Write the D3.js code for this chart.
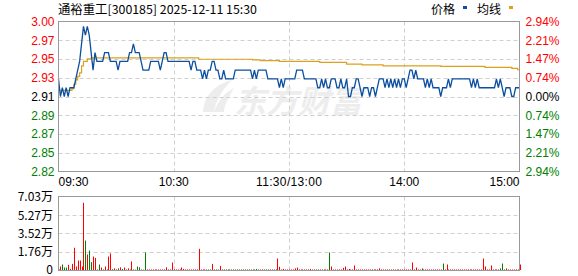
<!DOCTYPE html>
<html>
<head>
<meta charset="utf-8">
<script src="https://cdn.jsdelivr.net/npm/d3@7"></script>
<style>
  body { margin: 0; background: #fff; }
  svg { display: block; }
</style>
</head>
<body>
<script>
// chart data
var title = "通裕重工[300185] 2025-12-11 15:30";
var prevClose = 2.91;
var maxPct = 0.0294;
var priceLabels = ["3.00", "2.97", "2.95", "2.93", "2.91", "2.89", "2.87", "2.85", "2.82"];
var pctLabels = ["2.94%", "2.21%", "1.47%", "0.74%", "0.00%", "0.74%", "1.47%", "2.21%", "2.94%"];
var timeLabels = ["09:30", "10:30", "11:30/13:00", "14:00", "15:00"];
var timeMinutes = [0, 60, 120, 180, 240];
var volLabels = ["7.03万", "5.27万", "3.52万", "1.76万", "0"];
var volTicks = [7.03, 5.27, 3.52, 1.76, 0];

// one price per minute, 241 points
var prices = [
  2.93,2.91,2.92,2.91,2.92,2.91,2.92,2.92,2.92,2.93,
  2.94,2.95,2.97,2.99,2.98,2.99,2.98,2.96,2.94,2.96,
  2.95,2.95,2.95,2.95,2.96,2.96,2.96,2.95,2.95,2.95,
  2.95,2.94,2.95,2.95,2.95,2.95,2.95,2.96,2.96,2.97,
  2.96,2.96,2.96,2.95,2.94,2.94,2.94,2.94,2.95,2.95,
  2.95,2.95,2.95,2.94,2.95,2.96,2.96,2.95,2.95,2.95,
  2.95,2.95,2.95,2.95,2.95,2.95,2.95,2.95,2.95,2.94,
  2.95,2.95,2.94,2.94,2.94,2.93,2.94,2.93,2.94,2.94,
  2.95,2.95,2.94,2.94,2.93,2.93,2.94,2.93,2.93,2.93,
  2.93,2.93,2.94,2.94,2.94,2.94,2.94,2.94,2.94,2.94,
  2.94,2.93,2.94,2.93,2.94,2.94,2.94,2.94,2.94,2.93,
  2.93,2.93,2.93,2.93,2.93,2.92,2.93,2.92,2.93,2.93,
  2.93,2.93,2.93,2.93,2.94,2.94,2.94,2.94,2.93,2.93,
  2.93,2.93,2.93,2.93,2.93,2.92,2.92,2.93,2.92,2.93,
  2.92,2.92,2.93,2.93,2.93,2.92,2.92,2.93,2.92,2.92,
  2.93,2.91,2.91,2.92,2.92,2.93,2.93,2.92,2.91,2.92,
  2.92,2.92,2.91,2.92,2.92,2.91,2.92,2.93,2.93,2.93,
  2.92,2.93,2.92,2.93,2.92,2.93,2.92,2.93,2.92,2.93,
  2.93,2.92,2.93,2.94,2.94,2.93,2.94,2.93,2.93,2.93,
  2.93,2.92,2.93,2.92,2.93,2.92,2.92,2.92,2.92,2.91,
  2.92,2.92,2.92,2.93,2.92,2.93,2.93,2.93,2.93,2.93,
  2.93,2.93,2.93,2.93,2.93,2.92,2.93,2.92,2.93,2.92,
  2.92,2.92,2.92,2.92,2.92,2.92,2.92,2.92,2.93,2.92,
  2.93,2.92,2.91,2.92,2.92,2.92,2.91,2.91,2.92,2.92,
  2.92
];

// average line: [minute, value] where it changes
var avgPrices = [
  [0, 2.917], [7, 2.919], [8, 2.924], [9, 2.929], [10, 2.933], [11, 2.937],
  [12, 2.945], [13, 2.950], [15, 2.953], [17, 2.954], [73, 2.9525],
  [101, 2.9517], [105, 2.951], [115, 2.950], [136, 2.949], [150, 2.947],
  [158, 2.946], [169, 2.945], [199, 2.9444], [222, 2.9433], [236, 2.942],
  [239, 2.9405], [240, 2.9405]
];

// volume per minute in 万, and bar colour (r = up, g = down)
var volumes = [
  0.1,0.38,0.57,0.28,0.28,0.54,0.16,0.63,2.16,0.38,
  0.95,0.95,0.38,6.43,2.85,1.52,1.9,0.79,1.33,1.2,
  0.1,0.57,0.28,0.1,0.38,0.1,1.33,1.62,0.12,0.2,
  0.1,0.2,0.3,0.15,0.28,0.1,0.2,0.1,0.86,0.1,
  0.08,0.38,0.3,0.1,0.08,1.71,0.1,0.1,0.1,0.1,
  0.1,0.1,0.1,0.1,0.1,0.1,0.3,0.1,0.1,0.76,
  0.1,0.1,0.1,0.1,0.28,0.15,0.1,0.1,0.1,0.1,
  0.1,0.1,0.1,2.06,0.1,0.1,0.1,0.1,0.1,0.1,
  0.63,0.1,0.1,0.1,0.44,0.1,0.1,0.1,0.1,0.1,
  0.1,0.1,0.1,0.1,0.1,0.1,0.1,0.1,0.1,0.1,
  0.1,0.1,0.1,0.15,0.1,0.1,0.1,0.1,0.1,0.1,
  0.1,0.1,0.1,0.1,1.14,0.35,0.1,0.15,0.1,0.1,
  0.1,0.1,0.1,0.2,0.28,0.1,0.1,0.1,0.1,0.1,
  0.1,0.15,0.1,0.1,0.1,0.1,0.1,0.1,0.1,0.1,
  0.1,1.71,0.38,0.1,0.1,0.1,0.1,0.1,0.25,0.38,
  0.1,0.15,0.1,0.1,0.48,0.1,0.1,0.1,0.1,0.1,
  0.1,0.1,0.1,0.1,0.1,0.1,0.1,0.2,0.1,0.1,
  0.1,0.1,0.1,0.1,0.1,0.1,0.1,0.1,0.1,0.1,
  0.1,0.1,0.1,0.1,0.76,0.1,0.28,0.1,0.1,0.2,
  0.1,0.1,0.1,0.1,0.1,0.1,0.1,0.1,0.1,0.1,
  0.66,0.1,0.57,0.1,0.1,0.1,0.1,0.1,0.1,0.1,
  0.1,0.1,0.1,0.1,0.1,0.1,0.1,0.1,0.1,0.1,
  0.1,1.14,0.38,0.1,0.1,0.48,0.1,0.1,0.1,0.1,
  0.2,0.66,0.1,0.2,0.1,0.1,0.1,0.1,0.1,0.1,
  0.57
];
var volDirs = (
  "rrgggrrrrr" + "rrrrgrggrr" + "rgrgrrrrgr" + "rgrgrgrgrr" + "rggrggrrrr" +
  "rrrrrrrrrr" + "rrrrrrrrrr" + "rrrrrrrggr" + "rggrrgggrg" + "ggrggrggrg" +
  "rggggrrggr" + "rgrgrrgrrr" + "rrrrrrrrrg" + "rrrrggrgrr" + "rgrrrrrrrr" +
  "rrrrrrrrrr" + "rrrgrrrrrr" + "rrgrrrrgrr" + "rrrrrrrrrg" + "rrrrrrrrrr" +
  "grrrrrrrrr" + "rrrrrrrrrr" + "rrrrrrrrrr" + "gggrrrrrrr" + "r"
).split("");

var svgWidth = 578, svgHeight = 276;
var RED = "#ff0000", GREEN = "#008000", BLUE = "#0b4fa0", GOLD = "#dca21e";
var numFont = "'Liberation Sans', Arial, sans-serif";
var cjkFont = "'Noto Sans CJK SC', 'Liberation Sans', sans-serif";

var svg = d3.select("body").append("svg")
  .attr("width", svgWidth)
  .attr("height", svgHeight);

// scales
var x = d3.scaleLinear().domain([0, 240]).range([58.5, 519.5]);
var step = prevClose * maxPct / 4;
var y = d3.scaleLinear()
  .domain([prevClose - 4 * step, prevClose + 4 * step])
  .range([171.5, 21.5]);
var yv = d3.scaleLinear().domain([0, 7.03]).range([270.5, 196.5]);
var tickVals = d3.range(9).map(function(k) { return prevClose + (4 - k) * step; });

function labelColor(k) {
  return k < 4 ? RED : (k == 4 ? "#000" : GREEN);
}

// watermark
svg.append("text")
  .attr("x", 234).attr("y", 113)
  .attr("font-family", cjkFont)
  .attr("font-size", 32).attr("font-weight", "bold")
  .attr("font-style", "italic")
  .attr("fill", "#ededed")
  .text("东方财富");
svg.append("path")
  .attr("d", "M203,112 C204,95 216,84 232,80 C222,90 216,100 214,112 Z M214,112 C218,100 226,92 234,88 C228,98 224,106 224,112 Z")
  .attr("fill", "#ededed");

// title + legend
svg.append("text")
  .attr("x", 58).attr("y", 14)
  .attr("font-family", cjkFont).attr("font-size", 12)
  .attr("textLength", 199).attr("lengthAdjust", "spacingAndGlyphs")
  .text(title);
svg.append("text").attr("x", 431).attr("y", 14)
  .attr("font-family", cjkFont).attr("font-size", 12).text("价格");
svg.append("rect").attr("x", 463).attr("y", 6).attr("width", 4).attr("height", 3).attr("fill", BLUE);
svg.append("text").attr("x", 477).attr("y", 14)
  .attr("font-family", cjkFont).attr("font-size", 12).text("均线");
svg.append("rect").attr("x", 509).attr("y", 6).attr("width", 4).attr("height", 3).attr("fill", GOLD);

// grids
var grid = svg.append("g")
  .attr("stroke", "#cfcfcf").attr("stroke-dasharray", "4,3").attr("fill", "none");
tickVals.slice(1, 8).forEach(function(v) {
  var yy = Math.round(y(v)) + 0.5;
  grid.append("line").attr("x1", x(0)).attr("x2", x(240)).attr("y1", yy).attr("y2", yy);
});
timeMinutes.slice(1, 4).forEach(function(m) {
  var xx = Math.round(x(m)) + 0.5;
  grid.append("line").attr("x1", xx).attr("x2", xx).attr("y1", y.range()[1]).attr("y2", y.range()[0]);
  grid.append("line").attr("x1", xx).attr("x2", xx).attr("y1", yv.range()[1]).attr("y2", yv.range()[0]);
});
volTicks.slice(1, 4).forEach(function(v) {
  var yy = Math.round(yv(v)) + 0.5;
  grid.append("line").attr("x1", x(0)).attr("x2", x(240)).attr("y1", yy).attr("y2", yy);
});

// left / right price axes
var leftAxis = d3.axisLeft(y).tickValues(tickVals).tickSize(0).tickPadding(4)
  .tickFormat(function(d, i) { return priceLabels[i]; });
var gl = svg.append("g").attr("transform", "translate(" + x(0) + ",0)").call(leftAxis);
gl.select(".domain").remove();
gl.selectAll("text").attr("font-family", numFont).attr("font-size", 12)
  .attr("fill", function(d, i) { return labelColor(i); });

var rightAxis = d3.axisRight(y).tickValues(tickVals).tickSize(0).tickPadding(6)
  .tickFormat(function(d, i) { return pctLabels[i]; });
var gr = svg.append("g").attr("transform", "translate(" + x(240) + ",0)").call(rightAxis);
gr.select(".domain").remove();
gr.selectAll("text").attr("font-family", numFont).attr("font-size", 12)
  .attr("fill", function(d, i) { return labelColor(i); });

// time axis labels
svg.append("g").selectAll("text")
  .data(timeLabels).enter().append("text")
  .attr("x", function(d, i) { return x(timeMinutes[i]); })
  .attr("y", 186)
  .attr("text-anchor", function(d, i) { return i == 0 ? "start" : (i == 4 ? "end" : "middle"); })
  .attr("font-family", numFont).attr("font-size", 12)
  .attr("textLength", function(d) { return d.length * 6; })
  .text(function(d) { return d; });

// lines
var priceLine = d3.line()
  .x(function(d, i) { return x(i); })
  .y(function(d) { return y(d); });
var avgLine = d3.line()
  .x(function(d) { return x(d[0]); })
  .y(function(d) { return y(d[1]); })
  .curve(d3.curveStepAfter);

svg.append("path").datum(avgPrices)
  .attr("d", avgLine).attr("fill", "none")
  .attr("stroke", GOLD).attr("stroke-width", 1.2);
svg.append("path").datum(prices)
  .attr("d", priceLine).attr("fill", "none")
  .attr("stroke", BLUE).attr("stroke-width", 1.3);

// borders
svg.append("rect")
  .attr("x", x(0)).attr("y", y.range()[1])
  .attr("width", x(240) - x(0)).attr("height", y.range()[0] - y.range()[1])
  .attr("fill", "none").attr("stroke", "#999");
svg.append("rect")
  .attr("x", x(0)).attr("y", yv.range()[1])
  .attr("width", x(240) - x(0)).attr("height", yv.range()[0] - yv.range()[1])
  .attr("fill", "none").attr("stroke", "#999");

// volume bars
svg.append("g").selectAll("rect")
  .data(volumes).enter().append("rect")
  .attr("x", function(d, i) { return Math.round(x(i)); })
  .attr("width", 1)
  .attr("y", function(d) { return yv(d); })
  .attr("height", function(d) { return yv(0) - yv(d) - 0.5; })
  .attr("fill", function(d, i) { return volDirs[i] == "g" ? GREEN : RED; });

// volume axis labels
svg.append("g").selectAll("text")
  .data(volLabels).enter().append("text")
  .attr("x", 53)
  .attr("y", function(d, i) { return Math.min(yv(volTicks[i]) + 4.5, 274); })
  .attr("text-anchor", "end")
  .attr("font-family", cjkFont).attr("font-size", 12)
  .attr("fill", "#000")
  .text(function(d) { return d; });
</script>
</body>
</html>
